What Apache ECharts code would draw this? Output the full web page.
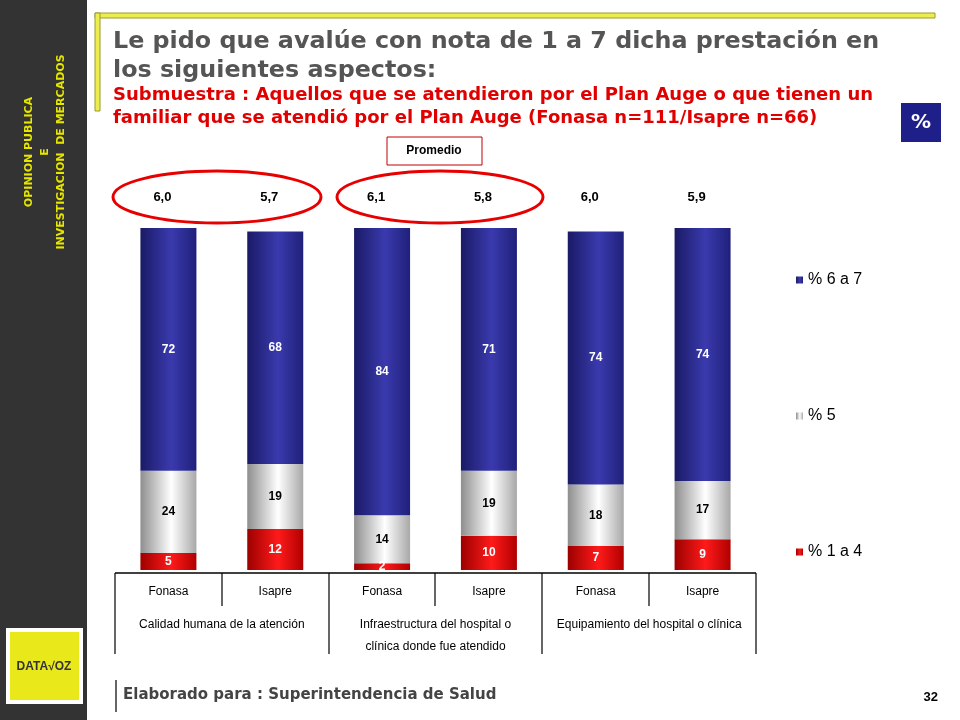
<!DOCTYPE html>
<html>
<head>
<meta charset="utf-8">
<script src="https://cdn.jsdelivr.net/npm/echarts@6/dist/echarts.min.js"></script>
<style>
  html, body { margin: 0; padding: 0; background: #fff; }
  #chart { width: 960px; height: 720px; }
</style>
</head>
<body>
<div id="chart"></div>
<script>
// datos del gráfico
var categories = ['Fonasa', 'Isapre', 'Fonasa', 'Isapre', 'Fonasa', 'Isapre'];
var groups = ['Calidad humana de la atención', 'Infraestructura del hospital o\nclínica donde fue atendido', 'Equipamiento del hospital o clínica'];
var low = [5, 12, 2, 10, 7, 9];       // % 1 a 4
var mid = [24, 19, 14, 19, 18, 17];   // % 5
var high = [72, 68, 84, 71, 74, 74];  // % 6 a 7
var promedio = ['6,0', '5,7', '6,1', '5,8', '6,0', '5,9'];

function grad(c0, c1, c2) {
   return new echarts.graphic.LinearGradient(0, 0, 1, 0, [
      {offset: 0, color: c0}, {offset: 0.55, color: c1}, {offset: 1, color: c2}
   ]);
}

var myChart = echarts.init(document.getElementById('chart'));
var font = '"Liberation Sans", Arial, sans-serif';

var graphics = [
   // barra lateral
   {type: 'rect', shape: {x: 0, y: 0, width: 87, height: 720}, style: {fill: '#333333'}},
   {type: 'text', x: 29, y: 152, rotation: Math.PI / 2, style: {text: 'OPINION PUBLICA', fill: '#E6E600', font: 'bold 11px "DejaVu Sans"', align: 'center', verticalAlign: 'middle'}},
   {type: 'text', x: 45, y: 152, rotation: Math.PI / 2, style: {text: 'E', fill: '#E6E600', font: 'bold 11px "DejaVu Sans"', align: 'center', verticalAlign: 'middle'}},
   {type: 'text', x: 61, y: 152, rotation: Math.PI / 2, style: {text: 'INVESTIGACION  DE MERCADOS', fill: '#E6E600', font: 'bold 11px "DejaVu Sans"', align: 'center', verticalAlign: 'middle'}},
   // logo
   {type: 'rect', shape: {x: 6, y: 628, width: 77, height: 76}, style: {fill: '#ffffff'}},
   {type: 'rect', shape: {x: 10, y: 632, width: 69, height: 68}, style: {fill: '#E8E81A'}},
   {type: 'text', x: 44, y: 667, style: {text: 'DATA√OZ', fill: '#333', font: 'bold 12px "Liberation Sans"', align: 'center', verticalAlign: 'middle'}},
   // marco del título
   {type: 'rect', shape: {x: 95, y: 13, width: 840, height: 5}, style: {fill: '#EDED50', stroke: '#9a9a30', lineWidth: 1}},
   {type: 'rect', shape: {x: 95, y: 13, width: 5, height: 98}, style: {fill: '#EDED50', stroke: '#9a9a30', lineWidth: 1}},
   {type: 'text', x: 113, y: 27, style: {text: 'Le pido que avalúe con nota de 1 a 7 dicha prestación en\nlos siguientes aspectos:', fill: '#555555', font: 'bold 23.8px "DejaVu Sans"', lineHeight: 29}},
   {type: 'text', x: 113, y: 84, style: {text: 'Submuestra : Aquellos que se atendieron por el Plan Auge o que tienen un\nfamiliar que se atendió por el Plan Auge (Fonasa n=111/Isapre n=66)', fill: '#E00000', font: 'bold 18px "DejaVu Sans"', lineHeight: 23}},
   // caja %
   {type: 'rect', shape: {x: 901, y: 103, width: 40, height: 39}, style: {fill: '#1F1F8A'}},
   {type: 'text', x: 921, y: 123, style: {text: '%', fill: '#fff', font: 'bold 20px "DejaVu Sans"', align: 'center', verticalAlign: 'middle'}},
   // promedio
   {type: 'rect', shape: {x: 387, y: 137, width: 95, height: 28}, style: {fill: '#fff', stroke: '#C00000', lineWidth: 1}},
   {type: 'text', x: 434, y: 151, style: {text: 'Promedio', fill: '#000', font: 'bold 12px ' + font, align: 'center', verticalAlign: 'middle'}},
   {type: 'ellipse', shape: {cx: 217, cy: 197, rx: 104, ry: 26}, style: {fill: 'none', stroke: '#E80000', lineWidth: 3}},
   {type: 'ellipse', shape: {cx: 440, cy: 197, rx: 103, ry: 26}, style: {fill: 'none', stroke: '#E80000', lineWidth: 3}},
   // tabla de categorías
   {type: 'line', shape: {x1: 115, y1: 573, x2: 756, y2: 573}, style: {stroke: '#000', lineWidth: 1.5}},
   // pie de página
   {type: 'rect', shape: {x: 115, y: 680, width: 2, height: 32}, style: {fill: '#666'}},
   {type: 'text', x: 123, y: 695, style: {text: 'Elaborado para : Superintendencia de Salud', fill: '#444', font: 'bold 15px "DejaVu Sans"', verticalAlign: 'middle'}},
   {type: 'text', x: 938, y: 697, style: {text: '32', fill: '#000', font: 'bold 13px ' + font, align: 'right', verticalAlign: 'middle'}}
];

// líneas verticales de la tabla
[115, 329, 542, 756].forEach(function (x) {
   graphics.push({type: 'line', shape: {x1: x, y1: 573, x2: x, y2: 654}, style: {stroke: '#000', lineWidth: 1.2}});
});
[222, 435, 649].forEach(function (x) {
   graphics.push({type: 'line', shape: {x1: x, y1: 573, x2: x, y2: 606}, style: {stroke: '#000', lineWidth: 1.2}});
});

function barLabel(color) {
   return {show: true, position: 'inside', color: color, fontWeight: 'bold', fontSize: 12, fontFamily: font};
}

myChart.setOption({
   animation: false,
   grid: {left: 115, width: 641, top: 228, bottom: 150},
   legend: {
      orient: 'vertical', left: 791, top: 267, itemGap: 120,
      itemWidth: 7, itemHeight: 7, icon: 'rect',
      textStyle: {fontSize: 16, fontFamily: font, color: '#000'},
      data: ['% 6 a 7', '% 5', '% 1 a 4']
   },
   xAxis: [
      {
         type: 'category', data: categories, position: 'bottom',
         axisLine: {show: false}, axisTick: {show: false},
         axisLabel: {margin: 16, fontSize: 12, fontFamily: font, color: '#000', interval: 0}
      },
      {
         type: 'category', data: groups, position: 'bottom', offset: 36,
         axisLine: {show: false}, axisTick: {show: false},
         axisLabel: {fontSize: 12, fontFamily: font, color: '#000', lineHeight: 22, interval: 0}
      }
   ],
   yAxis: {type: 'value', min: 0, max: 100, show: false},
   series: [
      {name: '% 1 a 4', type: 'bar', stack: 't', data: low, barWidth: 56,
         itemStyle: {color: grad('#9c0000', '#ff1a1a', '#b00000')}, label: barLabel('#fff')},
      {name: '% 5', type: 'bar', stack: 't', data: mid, barWidth: 56,
         itemStyle: {color: grad('#8e8e8e', '#ffffff', '#a8a8a8')}, label: barLabel('#000')},
      {name: '% 6 a 7', type: 'bar', stack: 't', data: high, barWidth: 56,
         itemStyle: {color: grad('#1a1a66', '#3a3aae', '#20207a')}, label: barLabel('#fff')}
   ],
   graphic: graphics
});

// promedios sobre cada barra
var extra = promedio.map(function (p, i) {
   var x = myChart.convertToPixel({xAxisIndex: 0}, i);
   return {type: 'text', x: x - 6, y: 197, style: {text: p, fill: '#000', font: 'bold 13px ' + font, align: 'center', verticalAlign: 'middle'}};
});
myChart.setOption({graphic: graphics.concat(extra)});
</script>
</body>
</html>
